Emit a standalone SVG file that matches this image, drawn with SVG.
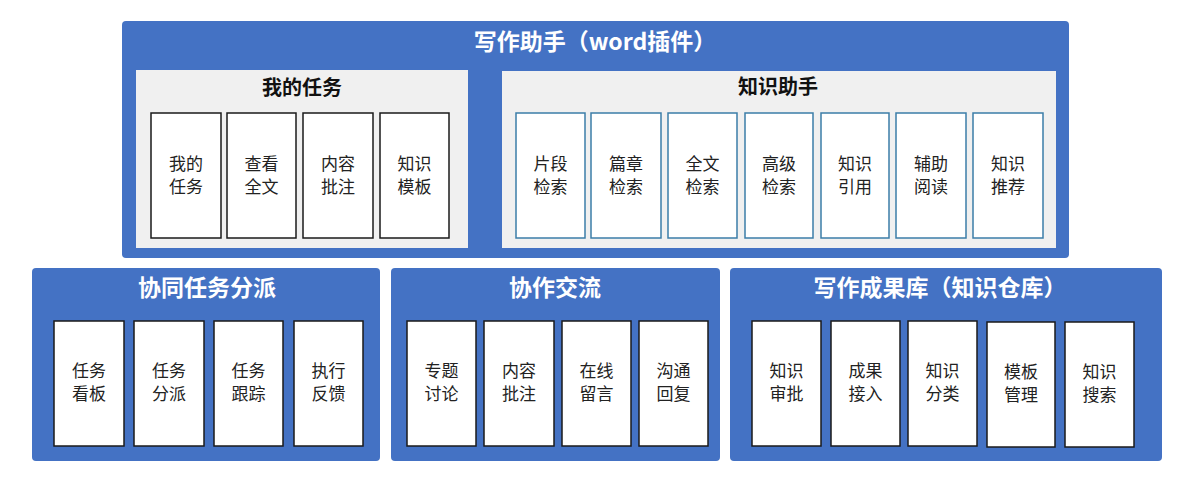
<svg xmlns="http://www.w3.org/2000/svg" width="1200" height="479" viewBox="0 0 1200 479">
<style>
.panel{fill:#4472C4;}
.grey{fill:#F0F0F0;}
.box{fill:#FFFFFF;stroke:#1a1a1a;stroke-width:1.5;}
.kbox{fill:#FFFFFF;stroke:#3B7DA8;stroke-width:1.5;}
text{font-family:"Noto Sans CJK SC","Noto Sans",sans-serif;text-anchor:middle;}
.ptitle{fill:#FFFFFF;font-size:23px;font-weight:bold;}
.gtitle{fill:#111111;font-size:20px;font-weight:bold;}
.lbl{fill:#222222;font-size:17px;}
</style>
<rect width="1200" height="479" fill="#FFFFFF"/>

<g id="writing-assistant">
<rect class="panel" x="122" y="21" width="947" height="237" rx="4"/>
<text class="ptitle" x="595" y="50">写作助手（word插件）</text>
</g>

<g id="my-tasks">
<rect class="grey" x="136" y="70" width="332" height="178"/>
<text class="gtitle" x="302" y="95">我的任务</text>
</g>
<g id="n-my-task"><rect class="box" x="151" y="113" width="70" height="125"/><text class="lbl" x="186" y="170">我的<tspan x="186" dy="23">任务</tspan></text></g>
<g id="n-view-full"><rect class="box" x="227" y="113" width="69" height="125"/><text class="lbl" x="261.5" y="170">查看<tspan x="261.5" dy="23">全文</tspan></text></g>
<g id="n-annot1"><rect class="box" x="303" y="113" width="70" height="125"/><text class="lbl" x="338" y="170">内容<tspan x="338" dy="23">批注</tspan></text></g>
<g id="n-template1"><rect class="box" x="380" y="113" width="69" height="125"/><text class="lbl" x="414.5" y="170">知识<tspan x="414.5" dy="23">模板</tspan></text></g>

<g id="knowledge-assistant">
<rect class="grey" x="502" y="71" width="554" height="177"/>
<text class="gtitle" x="778" y="94">知识助手</text>
</g>
<g id="n-seg"><rect class="kbox" x="516" y="113" width="69" height="125"/><text class="lbl" x="550.5" y="170">片段<tspan x="550.5" dy="23">检索</tspan></text></g>
<g id="n-chapter"><rect class="kbox" x="591" y="113" width="70" height="125"/><text class="lbl" x="626" y="170">篇章<tspan x="626" dy="23">检索</tspan></text></g>
<g id="n-fulltext"><rect class="kbox" x="668" y="113" width="69" height="125"/><text class="lbl" x="702.5" y="170">全文<tspan x="702.5" dy="23">检索</tspan></text></g>
<g id="n-advanced"><rect class="kbox" x="745" y="113" width="68" height="125"/><text class="lbl" x="779" y="170">高级<tspan x="779" dy="23">检索</tspan></text></g>
<g id="n-cite"><rect class="kbox" x="821" y="113" width="68" height="125"/><text class="lbl" x="855" y="170">知识<tspan x="855" dy="23">引用</tspan></text></g>
<g id="n-read"><rect class="kbox" x="896" y="113" width="70" height="125"/><text class="lbl" x="931" y="170">辅助<tspan x="931" dy="23">阅读</tspan></text></g>
<g id="n-recommend"><rect class="kbox" x="973" y="113" width="70" height="125"/><text class="lbl" x="1008" y="170">知识<tspan x="1008" dy="23">推荐</tspan></text></g>

<g id="task-dispatch">
<rect class="panel" x="32" y="268" width="348" height="193" rx="4"/>
<text class="ptitle" x="207" y="296">协同任务分派</text>
</g>
<g id="n-board"><rect class="box" x="54" y="321" width="70" height="125"/><text class="lbl" x="89" y="377">任务<tspan x="89" dy="23">看板</tspan></text></g>
<g id="n-dispatch"><rect class="box" x="134" y="321" width="70" height="125"/><text class="lbl" x="169" y="377">任务<tspan x="169" dy="23">分派</tspan></text></g>
<g id="n-track"><rect class="box" x="214" y="321" width="69" height="125"/><text class="lbl" x="248.5" y="377">任务<tspan x="248.5" dy="23">跟踪</tspan></text></g>
<g id="n-feedback"><rect class="box" x="294" y="321" width="69" height="125"/><text class="lbl" x="328.5" y="377">执行<tspan x="328.5" dy="23">反馈</tspan></text></g>

<g id="collab">
<rect class="panel" x="391" y="268" width="329" height="193" rx="4"/>
<text class="ptitle" x="555" y="296">协作交流</text>
</g>
<g id="n-topic"><rect class="box" x="407" y="321" width="69" height="125"/><text class="lbl" x="441.5" y="377">专题<tspan x="441.5" dy="23">讨论</tspan></text></g>
<g id="n-annot2"><rect class="box" x="484" y="321" width="70" height="125"/><text class="lbl" x="519" y="377">内容<tspan x="519" dy="23">批注</tspan></text></g>
<g id="n-message"><rect class="box" x="562" y="321" width="69" height="125"/><text class="lbl" x="596.5" y="377">在线<tspan x="596.5" dy="23">留言</tspan></text></g>
<g id="n-reply"><rect class="box" x="639" y="321" width="69" height="125"/><text class="lbl" x="673.5" y="377">沟通<tspan x="673.5" dy="23">回复</tspan></text></g>

<g id="repository">
<rect class="panel" x="730" y="268" width="432" height="193" rx="4"/>
<text class="ptitle" x="940" y="296">写作成果库（知识仓库）</text>
</g>
<g id="n-approve"><rect class="box" x="752" y="321" width="69" height="125"/><text class="lbl" x="786.5" y="377">知识<tspan x="786.5" dy="23">审批</tspan></text></g>
<g id="n-ingest"><rect class="box" x="831" y="321" width="69" height="125"/><text class="lbl" x="865.5" y="377">成果<tspan x="865.5" dy="23">接入</tspan></text></g>
<g id="n-classify"><rect class="box" x="908" y="321" width="69" height="125"/><text class="lbl" x="942.5" y="377">知识<tspan x="942.5" dy="23">分类</tspan></text></g>
<g id="n-template2"><rect class="box" x="987" y="322" width="68" height="125"/><text class="lbl" x="1021" y="378">模板<tspan x="1021" dy="23">管理</tspan></text></g>
<g id="n-search"><rect class="box" x="1065" y="322" width="69" height="125"/><text class="lbl" x="1099.5" y="378">知识<tspan x="1099.5" dy="23">搜索</tspan></text></g>

<g id="connectors"></g>
</svg>
